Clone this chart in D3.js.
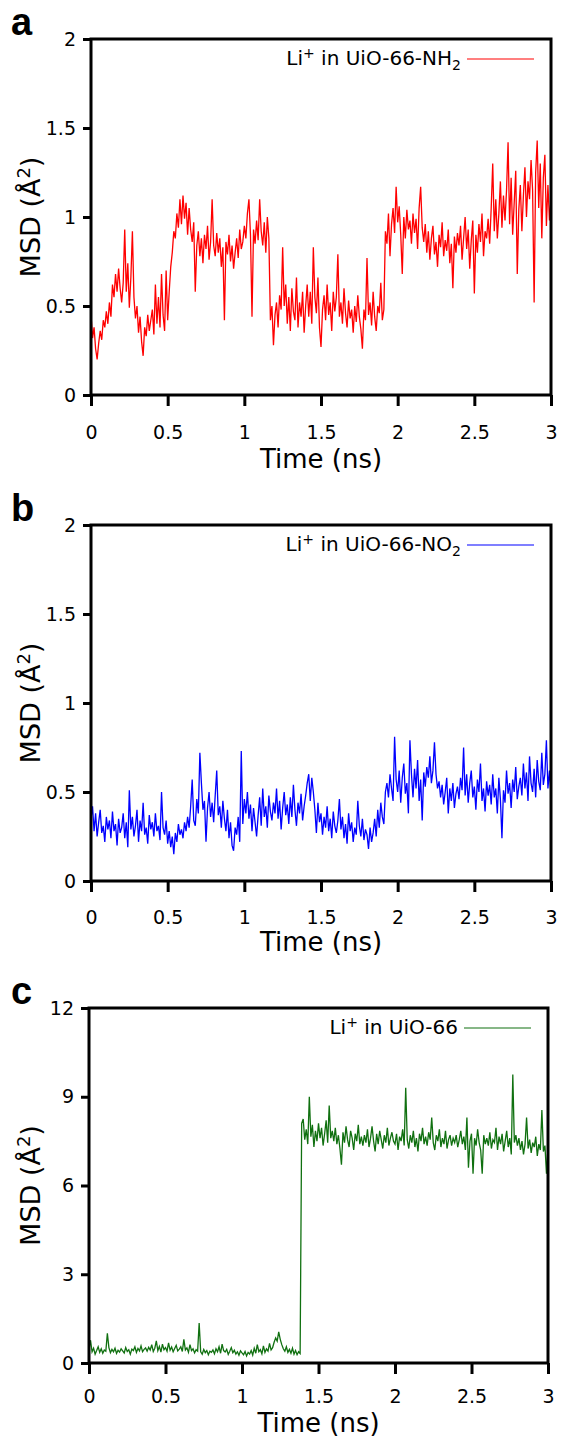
<!DOCTYPE html>
<html>
<head>
<meta charset="utf-8">
<script src="https://cdn.jsdelivr.net/npm/d3@7"></script>
<style>
  body { margin: 0; background: #fff; }
  svg { display: block; }
  text { font-family: "DejaVu Sans", sans-serif; fill: #000; }
</style>
</head>
<body>
<svg width="564" height="1441"></svg>
<script>
const width = 564, height = 1441;
const svg = d3.select("svg");

// sampling step of the traces (ns)
const dt = 0.01;

const xTicks = [0, 0.5, 1, 1.5, 2, 2.5, 3];
const yTicksSmall = [0, 0.5, 1, 1.5, 2];
const yTicksLarge = [0, 3, 6, 9, 12];

// MSD of Li+ in UiO-66-NH2 (A^2)
const msdNH2 = [
  0.45, 0.32, 0.38, 0.26, 0.20, 0.29, 0.36, 0.31, 0.42, 0.38, 0.47, 0.40, 0.52, 0.44, 0.62, 0.55, 0.68, 0.58, 0.71, 0.60,
  0.52, 0.63, 0.93, 0.58, 0.74, 0.49, 0.66, 0.92, 0.55, 0.43, 0.50, 0.35, 0.44, 0.30, 0.22, 0.38, 0.33, 0.45, 0.36, 0.42,
  0.48, 0.34, 0.62, 0.40, 0.55, 0.38, 0.68, 0.45, 0.36, 0.70, 0.42, 0.58, 0.72, 0.80, 0.92, 0.88, 1.02, 0.94, 1.10, 0.96,
  1.12, 0.99, 1.08, 0.90, 1.05, 0.93, 0.86, 0.97, 0.58, 0.84, 0.92, 0.78, 0.88, 0.74, 0.90, 0.82, 0.95, 0.76, 0.86, 1.10,
  0.84, 0.78, 0.91, 0.80, 0.88, 0.72, 0.83, 0.42, 0.86, 0.79, 0.90, 0.75, 0.84, 0.71, 0.80, 0.88, 0.77, 0.93, 0.82, 0.86,
  0.95, 0.88, 1.02, 1.10, 0.90, 0.44, 0.93, 0.85, 0.98, 0.87, 1.10, 0.92, 0.84, 0.97, 0.80, 1.00, 0.88, 0.42, 0.50, 0.28,
  0.45, 0.52, 0.38, 0.56, 0.48, 0.83, 0.50, 0.62, 0.40, 0.55, 0.36, 0.60, 0.47, 0.42, 0.66, 0.38, 0.52, 0.44, 0.58, 0.35,
  0.50, 0.62, 0.44, 0.58, 0.40, 0.83, 0.55, 0.46, 0.66, 0.38, 0.27, 0.48, 0.56, 0.42, 0.62, 0.45, 0.52, 0.36, 0.58, 0.47,
  0.55, 0.79, 0.44, 0.52, 0.40, 0.60, 0.46, 0.38, 0.53, 0.43, 0.48, 0.35, 0.50, 0.41, 0.56, 0.44, 0.37, 0.26, 0.48, 0.42,
  0.77, 0.45, 0.52, 0.39, 0.58, 0.44, 0.36, 0.50, 0.46, 0.63, 0.42, 0.48, 0.92, 0.85, 1.02, 0.78, 0.96, 1.05, 0.91, 1.17,
  0.97, 1.06, 0.90, 0.68, 1.00, 0.88, 1.04, 0.93, 0.98, 0.85, 1.02, 0.91, 0.99, 0.82, 1.05, 1.17, 0.94, 0.86, 0.96, 0.80,
  0.92, 0.76, 0.88, 0.95, 0.79, 0.86, 0.72, 0.90, 0.83, 0.97, 0.78, 0.87, 0.81, 0.93, 0.74, 0.85, 0.60, 0.89, 0.80, 0.91,
  0.84, 0.95, 0.76, 0.88, 1.00, 0.82, 0.93, 0.71, 0.87, 0.98, 0.57, 0.90, 0.80, 0.96, 0.86, 1.02, 0.78, 0.92, 0.88, 0.99,
  0.85, 1.05, 1.30, 0.92, 1.10, 0.88, 1.02, 1.20, 0.94, 1.12, 0.98, 1.15, 1.42, 0.96, 1.22, 0.90, 1.08, 1.26, 0.68, 1.04,
  1.18, 0.92, 1.12, 1.28, 1.00, 1.20, 1.10, 1.32, 1.15, 0.52, 1.25, 1.43, 1.05, 1.30, 0.88, 1.22, 1.35, 0.95, 1.18, 0.98,
  1.10
];

// MSD of Li+ in UiO-66-NO2, panel b
const msdNO2 = [
  0.35, 0.42, 0.28, 0.38, 0.25, 0.33, 0.40, 0.27, 0.31, 0.22, 0.36, 0.29, 0.34, 0.24, 0.39, 0.28, 0.32, 0.20, 0.35, 0.27,
  0.30, 0.38, 0.24, 0.33, 0.19, 0.51, 0.29, 0.36, 0.25, 0.31, 0.40, 0.22, 0.34, 0.28, 0.44, 0.26, 0.30, 0.21, 0.37, 0.29,
  0.33, 0.25, 0.38, 0.28, 0.31, 0.23, 0.50, 0.30, 0.26, 0.34, 0.21, 0.28, 0.19, 0.25, 0.15, 0.27, 0.22, 0.32, 0.26, 0.29,
  0.24, 0.33, 0.28, 0.36, 0.30, 0.42, 0.57, 0.34, 0.31, 0.46, 0.38, 0.72, 0.55, 0.40, 0.45, 0.22, 0.41, 0.50, 0.36, 0.44,
  0.33, 0.48, 0.62, 0.37, 0.42, 0.30, 0.45, 0.35, 0.28, 0.40, 0.24, 0.33, 0.20, 0.17, 0.30, 0.26, 0.36, 0.22, 0.73, 0.32,
  0.46, 0.38, 0.50, 0.35, 0.43, 0.28, 0.41, 0.33, 0.25, 0.37, 0.47, 0.31, 0.52, 0.36, 0.42, 0.30, 0.48, 0.39, 0.34, 0.44,
  0.38, 0.52, 0.35, 0.45, 0.29, 0.41, 0.50, 0.37, 0.43, 0.32, 0.47, 0.36, 0.54, 0.40, 0.31, 0.44, 0.38, 0.49, 0.34, 0.42,
  0.48, 0.55, 0.60, 0.45, 0.58, 0.50, 0.40, 0.27, 0.44, 0.33, 0.38, 0.26, 0.36, 0.30, 0.42, 0.28, 0.35, 0.24, 0.39, 0.31,
  0.27, 0.34, 0.46, 0.29, 0.36, 0.24, 0.32, 0.21, 0.38, 0.28, 0.33, 0.22, 0.30, 0.26, 0.45, 0.31, 0.25, 0.35, 0.23, 0.29,
  0.26, 0.18, 0.30, 0.22, 0.27, 0.35, 0.25, 0.40, 0.30, 0.44, 0.36, 0.32, 0.50, 0.55, 0.47, 0.60, 0.52, 0.45, 0.81, 0.57,
  0.50, 0.62, 0.44, 0.58, 0.66, 0.49, 0.55, 0.38, 0.79, 0.60, 0.47, 0.63, 0.52, 0.68, 0.45, 0.57, 0.34, 0.61, 0.53, 0.64,
  0.58, 0.70, 0.55, 0.62, 0.78, 0.60, 0.52, 0.56, 0.47, 0.54, 0.43, 0.50, 0.58, 0.38, 0.52, 0.45, 0.55, 0.41, 0.49, 0.53,
  0.46, 0.58, 0.51, 0.75, 0.48, 0.60, 0.44, 0.55, 0.62, 0.47, 0.53, 0.40, 0.57, 0.50, 0.66, 0.45, 0.52, 0.39, 0.56, 0.48,
  0.54, 0.43, 0.60, 0.47, 0.52, 0.38, 0.58, 0.46, 0.24, 0.51, 0.44, 0.62, 0.49, 0.55, 0.41, 0.57, 0.50, 0.64, 0.46, 0.53,
  0.58, 0.48, 0.66, 0.52, 0.61, 0.45, 0.70, 0.55, 0.50, 0.63, 0.47, 0.68, 0.56, 0.51, 0.72, 0.54, 0.60, 0.79, 0.52, 0.62,
  0.48
];

// MSD of Li+ in plain UiO-66, panel c
const msdUiO = [
  0.45, 0.77, 0.38, 0.50, 0.30, 0.42, 0.55, 0.36, 0.48, 0.33, 0.44, 0.40, 1.00, 0.52, 0.35, 0.46, 0.38, 0.50, 0.32, 0.43,
  0.37, 0.48, 0.41, 0.34, 0.52, 0.39, 0.45, 0.30, 0.47, 0.42, 0.55, 0.36, 0.49, 0.41, 0.58, 0.38, 0.46, 0.51, 0.40, 0.53,
  0.44, 0.62, 0.39, 0.50, 0.75, 0.42, 0.56, 0.37, 0.64, 0.45, 0.52, 0.40, 0.68, 0.43, 0.54, 0.38, 0.49, 0.60, 0.41, 0.47,
  0.55, 0.39, 0.80, 0.44, 0.51, 0.36, 0.62, 0.42, 0.48, 0.34, 0.45, 0.40, 1.35, 0.38, 0.30, 0.46, 0.35, 0.42, 0.28, 0.40,
  0.36, 0.44, 0.31, 0.48, 0.38, 0.55, 0.33, 0.64, 0.42, 0.37, 0.46, 0.29, 0.40, 0.52, 0.35, 0.43, 0.30, 0.38, 0.26, 0.41,
  0.34, 0.28, 0.39, 0.24, 0.36, 0.30, 0.42, 0.27, 0.50, 0.33, 0.62, 0.38, 0.45, 0.31, 0.58, 0.36, 0.48, 0.40, 0.66, 0.44,
  0.52, 0.70, 0.85, 0.74, 1.05, 0.80, 0.62, 0.48, 0.40, 0.55, 0.36, 0.46, 0.33, 0.50, 0.30, 0.42, 0.28, 0.38, 0.32, 8.10,
  8.25, 7.55, 7.90, 7.40, 9.00, 7.65, 8.05, 7.30, 7.85, 7.50, 8.10, 7.60, 7.95, 7.35, 7.75, 8.20, 7.45, 8.70, 7.60, 7.85,
  7.50, 7.95, 7.40, 7.70, 7.25, 6.70, 7.80, 7.45, 8.00, 7.55, 7.30, 7.85, 7.60, 7.20, 7.75, 7.50, 8.05, 7.40, 7.65, 7.35,
  7.70, 7.45, 7.90, 7.30, 7.60, 8.00, 7.50, 7.15, 7.75, 7.40, 7.85, 7.55, 7.25, 7.70, 7.45, 7.95, 7.35, 7.60, 7.80, 7.50,
  7.40, 7.75, 7.20, 7.65, 7.50, 7.90, 7.35, 9.30, 7.55, 7.25, 7.70, 7.45, 7.85, 7.30, 7.60, 7.15, 7.75, 7.50, 7.95, 7.40,
  7.65, 7.35, 7.80, 7.55, 8.30, 7.45, 7.20, 7.70, 7.50, 7.90, 7.30, 7.60, 7.40, 7.85, 7.25, 7.55, 7.70, 7.35, 7.60, 7.45,
  7.70, 7.30, 7.55, 7.85, 7.40, 7.65, 7.20, 8.30, 6.60, 7.50, 7.75, 6.40, 7.60, 7.35, 7.90, 7.45, 7.20, 6.40, 7.70, 7.40,
  7.60, 7.35, 7.80, 7.25, 7.55, 7.45, 7.95, 7.20, 7.65, 7.40, 7.75, 7.15, 7.50, 7.85, 7.30, 7.60, 7.05, 9.75, 7.45, 7.70,
  7.35, 7.60, 7.20, 7.50, 7.05, 7.40, 8.30, 7.25, 7.55, 7.10, 7.45, 7.30, 7.65, 7.00, 7.40, 7.20, 8.55, 7.15, 7.35, 6.40,
  7.30
];

const panels = [
  { letter: "a", values: msdNH2, color: "#ff0000", yMax: 2, yTicks: yTicksSmall,
    legend: ["UiO-66-NH", "2"], left: 91, right: 551, top: 39, bottom: 395, pad: 20, titleGap: 73 },
  { letter: "b", values: msdNO2, color: "#0000ff", yMax: 2, yTicks: yTicksSmall,
    legend: ["UiO-66-NO", "2"], left: 91, right: 551, top: 525, bottom: 881, pad: 19, titleGap: 70 },
  { letter: "c", values: msdUiO, color: "#107010", yMax: 12, yTicks: yTicksLarge,
    legend: ["UiO-66", null], left: 89, right: 548, top: 1008, bottom: 1363, pad: 16, titleGap: 69 }
];

panels.forEach(p => {
  const data = p.values.map((v, i) => ({ t: i * dt, v: v }));

  const xScale = d3.scaleLinear().domain([0, 3]).range([p.left, p.right]);
  const yScale = d3.scaleLinear().domain([0, p.yMax]).range([p.bottom, p.top]);

  const g = svg.append("g");

  // clip so spikes stay inside the frame
  const clipId = "clip-" + p.letter;
  g.append("clipPath").attr("id", clipId)
    .append("rect")
    .attr("x", p.left).attr("y", p.top)
    .attr("width", p.right - p.left).attr("height", p.bottom - p.top);

  const lineGen = d3.line()
    .x(d => xScale(d.t))
    .y(d => yScale(d.v));

  g.append("path")
    .datum(data)
    .attr("clip-path", `url(#${clipId})`)
    .attr("fill", "none")
    .attr("stroke", p.color)
    .attr("stroke-width", 1.3)
    .attr("d", lineGen);

  // axes
  const xAxis = d3.axisBottom(xScale)
    .tickValues(xTicks)
    .tickFormat(d => String(d))
    .tickSize(11)
    .tickSizeOuter(0)
    .tickPadding(p.pad);

  const yAxis = d3.axisLeft(yScale)
    .tickValues(p.yTicks)
    .tickFormat(d => String(d))
    .tickSize(8)
    .tickSizeOuter(0)
    .tickPadding(7);

  const gx = g.append("g")
    .attr("transform", `translate(0, ${p.bottom})`)
    .call(xAxis);
  const gy = g.append("g")
    .attr("transform", `translate(${p.left}, 0)`)
    .call(yAxis);

  [gx, gy].forEach(a => {
    a.select(".domain").remove();
    a.selectAll(".tick line").attr("stroke", "#000").attr("stroke-width", 3);
    a.selectAll(".tick text")
      .style("font-family", "DejaVu Sans")
      .style("font-size", "19px")
      .attr("fill", "#000");
  });

  // frame
  g.append("rect")
    .attr("x", p.left).attr("y", p.top)
    .attr("width", p.right - p.left).attr("height", p.bottom - p.top)
    .attr("fill", "none")
    .attr("stroke", "#000")
    .attr("stroke-width", 3);

  // axis titles
  g.append("text")
    .attr("x", (p.left + p.right) / 2)
    .attr("y", p.bottom + p.titleGap)
    .attr("text-anchor", "middle")
    .style("font-size", "26px")
    .text("Time (ns)");

  const yLabel = g.append("text")
    .attr("transform", `translate(40, ${(p.top + p.bottom) / 2}) rotate(-90)`)
    .attr("text-anchor", "middle")
    .style("font-size", "27px");
  yLabel.append("tspan").text("MSD (Å");
  yLabel.append("tspan").attr("dy", -10).style("font-size", "18px").text("2");
  yLabel.append("tspan").attr("dy", 10).text(")");

  // panel letter
  g.append("text")
    .attr("x", 11)
    .attr("y", p.top - 4)
    .style("font-family", "Liberation Sans, Arial, sans-serif")
    .style("font-weight", "bold")
    .style("font-size", "38px")
    .text(p.letter);

  // legend
  const legY = p.top + 20;
  g.append("line")
    .attr("x1", p.right - 84).attr("x2", p.right - 17)
    .attr("y1", legY).attr("y2", legY)
    .attr("stroke", p.color)
    .attr("stroke-width", 1.2);

  const leg = g.append("text")
    .attr("x", p.right - 90)
    .attr("y", legY + 6)
    .attr("text-anchor", "end")
    .style("font-size", "20px");
  leg.append("tspan").text("Li");
  leg.append("tspan").attr("dy", -7).style("font-size", "14px").text("+");
  leg.append("tspan").attr("dy", 7).text(" in " + p.legend[0]);
  if (p.legend[1]) {
    leg.append("tspan").attr("dy", 5).style("font-size", "14px").text(p.legend[1]);
  }
});
</script>
</body>
</html>
